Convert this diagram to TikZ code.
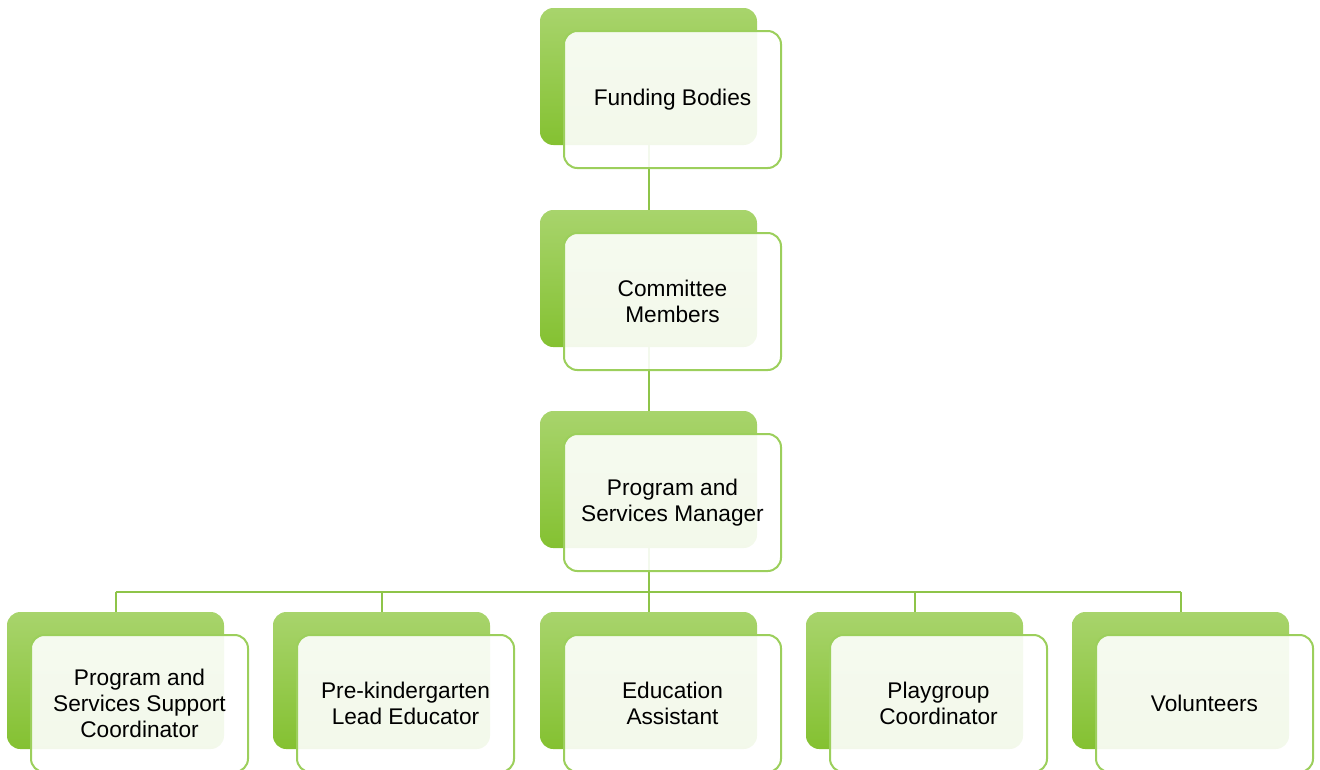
\documentclass[tikz,border=0pt]{standalone}
\usepackage{fontspec}
\setmainfont{Liberation Sans}
\usetikzlibrary{positioning, calc}

\definecolor{leafTop}{HTML}{A8D46C}
\definecolor{leafBot}{HTML}{84C131}
\definecolor{leafEdge}{HTML}{9CCF5C}
\definecolor{leafLine}{HTML}{8EC449}

\tikzset{
    backbox/.style={rounded corners=10pt, shade, top color=leafTop, bottom color=leafBot,
        minimum width=162.75pt, minimum height=102.75pt, inner sep=0pt},
    frontbox/.style={rounded corners=10pt, draw=leafEdge, line width=1.5pt, fill=white, fill opacity=0.9,
        text opacity=1, minimum width=162.75pt, minimum height=102.75pt, align=center,
        font=\fontsize{17}{19.5}\selectfont},
    link/.style={draw=leafLine, line width=1.5pt}
}

\begin{document}
\begin{tikzpicture}[x=0.75pt, y=-0.75pt]
    \useasboundingbox (0,0) rectangle (1320,769);

    % hinterste Kaesten
    \node[backbox] (fundB) at (648.5,76.5) {};
    \node[backbox] (commB) at (648.5,278.5) {};
    \node[backbox] (mgrB) at (648.5,479.5) {};
    \foreach \name/\x in {suppB/115.5, leadB/381.5, eduB/648.5, playB/914.5, volB/1180.5} {
        \node[backbox] (\name) at (\x,680.5) {};
    }

    % Verbindungen
    \coordinate (bus) at (648.5,592);
    \draw[link] (fundB.south) -- (commB.north);
    \draw[link] (commB.south) -- (mgrB.north);
    \draw[link] (mgrB.south) -- (bus);
    \draw[link] (bus -| suppB.north) -- (bus -| volB.north);
    \foreach \name in {suppB, leadB, eduB, playB, volB} {
        \draw[link] (bus -| \name.north) -- (\name.north);
    }

    % vordere Kaesten mit Text
    \node[frontbox] (fund) at ($(fundB)+(24,23)$) {Funding Bodies};
    \node[frontbox] (comm) at ($(commB)+(24,23)$) {Committee\\Members};
    \node[frontbox] (mgr) at ($(mgrB)+(24,23)$) {Program and\\Services Manager};
    \node[frontbox] (supp) at ($(suppB)+(24,23)$) {Program and\\Services Support\\Coordinator};
    \node[frontbox] (lead) at ($(leadB)+(24,23)$) {Pre-kindergarten\\Lead Educator};
    \node[frontbox] (edu) at ($(eduB)+(24,23)$) {Education\\Assistant};
    \node[frontbox] (play) at ($(playB)+(24,23)$) {Playgroup\\Coordinator};
    \node[frontbox] (vol) at ($(volB)+(24,23)$) {Volunteers};
\end{tikzpicture}
\end{document}
